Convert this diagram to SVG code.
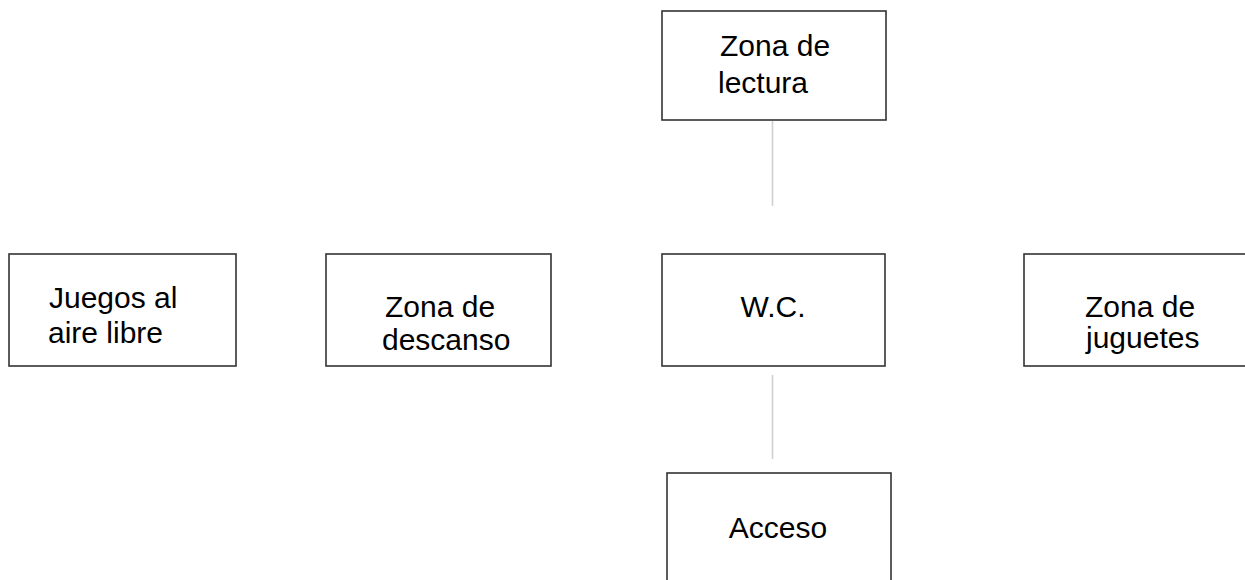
<svg xmlns="http://www.w3.org/2000/svg" width="1245" height="580" viewBox="0 0 1245 580">
<style>
.box{fill:#fff;stroke:#333;stroke-width:1.6}
.t{font-family:"Liberation Sans",Arial,sans-serif;font-size:30px;fill:#000}
.c{text-anchor:middle}
.link{stroke:#d0d0d0;stroke-width:1.6;fill:none}
</style>
<rect width="1245" height="580" fill="#fff"/>
<g id="connectors">
<line class="link" x1="772.5" y1="121" x2="772.5" y2="206"/>
<line class="link" x1="772.5" y1="375" x2="772.5" y2="459"/>
</g>
<g id="lectura">
<rect class="box" x="662" y="11" width="224" height="109"/>
<text class="t" x="720" y="56">Zona de</text>
<text class="t" x="718" y="93">lectura</text>
</g>
<g id="juegos">
<rect class="box" x="9" y="254" width="227" height="112"/>
<text class="t" x="49" y="308">Juegos al</text>
<text class="t" x="48" y="343">aire libre</text>
</g>
<g id="descanso">
<rect class="box" x="326" y="254" width="225" height="112"/>
<text class="t" x="385" y="317">Zona de</text>
<text class="t" x="382" y="350">descanso</text>
</g>
<g id="wc">
<rect class="box" x="662" y="254" width="223" height="112"/>
<text class="t c" x="773" y="317">W.C.</text>
</g>
<g id="juguetes">
<rect class="box" x="1024" y="254" width="230" height="112"/>
<text class="t" x="1085" y="317">Zona de</text>
<text class="t" x="1086" y="348">juguetes</text>
</g>
<g id="acceso">
<rect class="box" x="667" y="473" width="224" height="130"/>
<text class="t c" x="778" y="538">Acceso</text>
</g>
</svg>
